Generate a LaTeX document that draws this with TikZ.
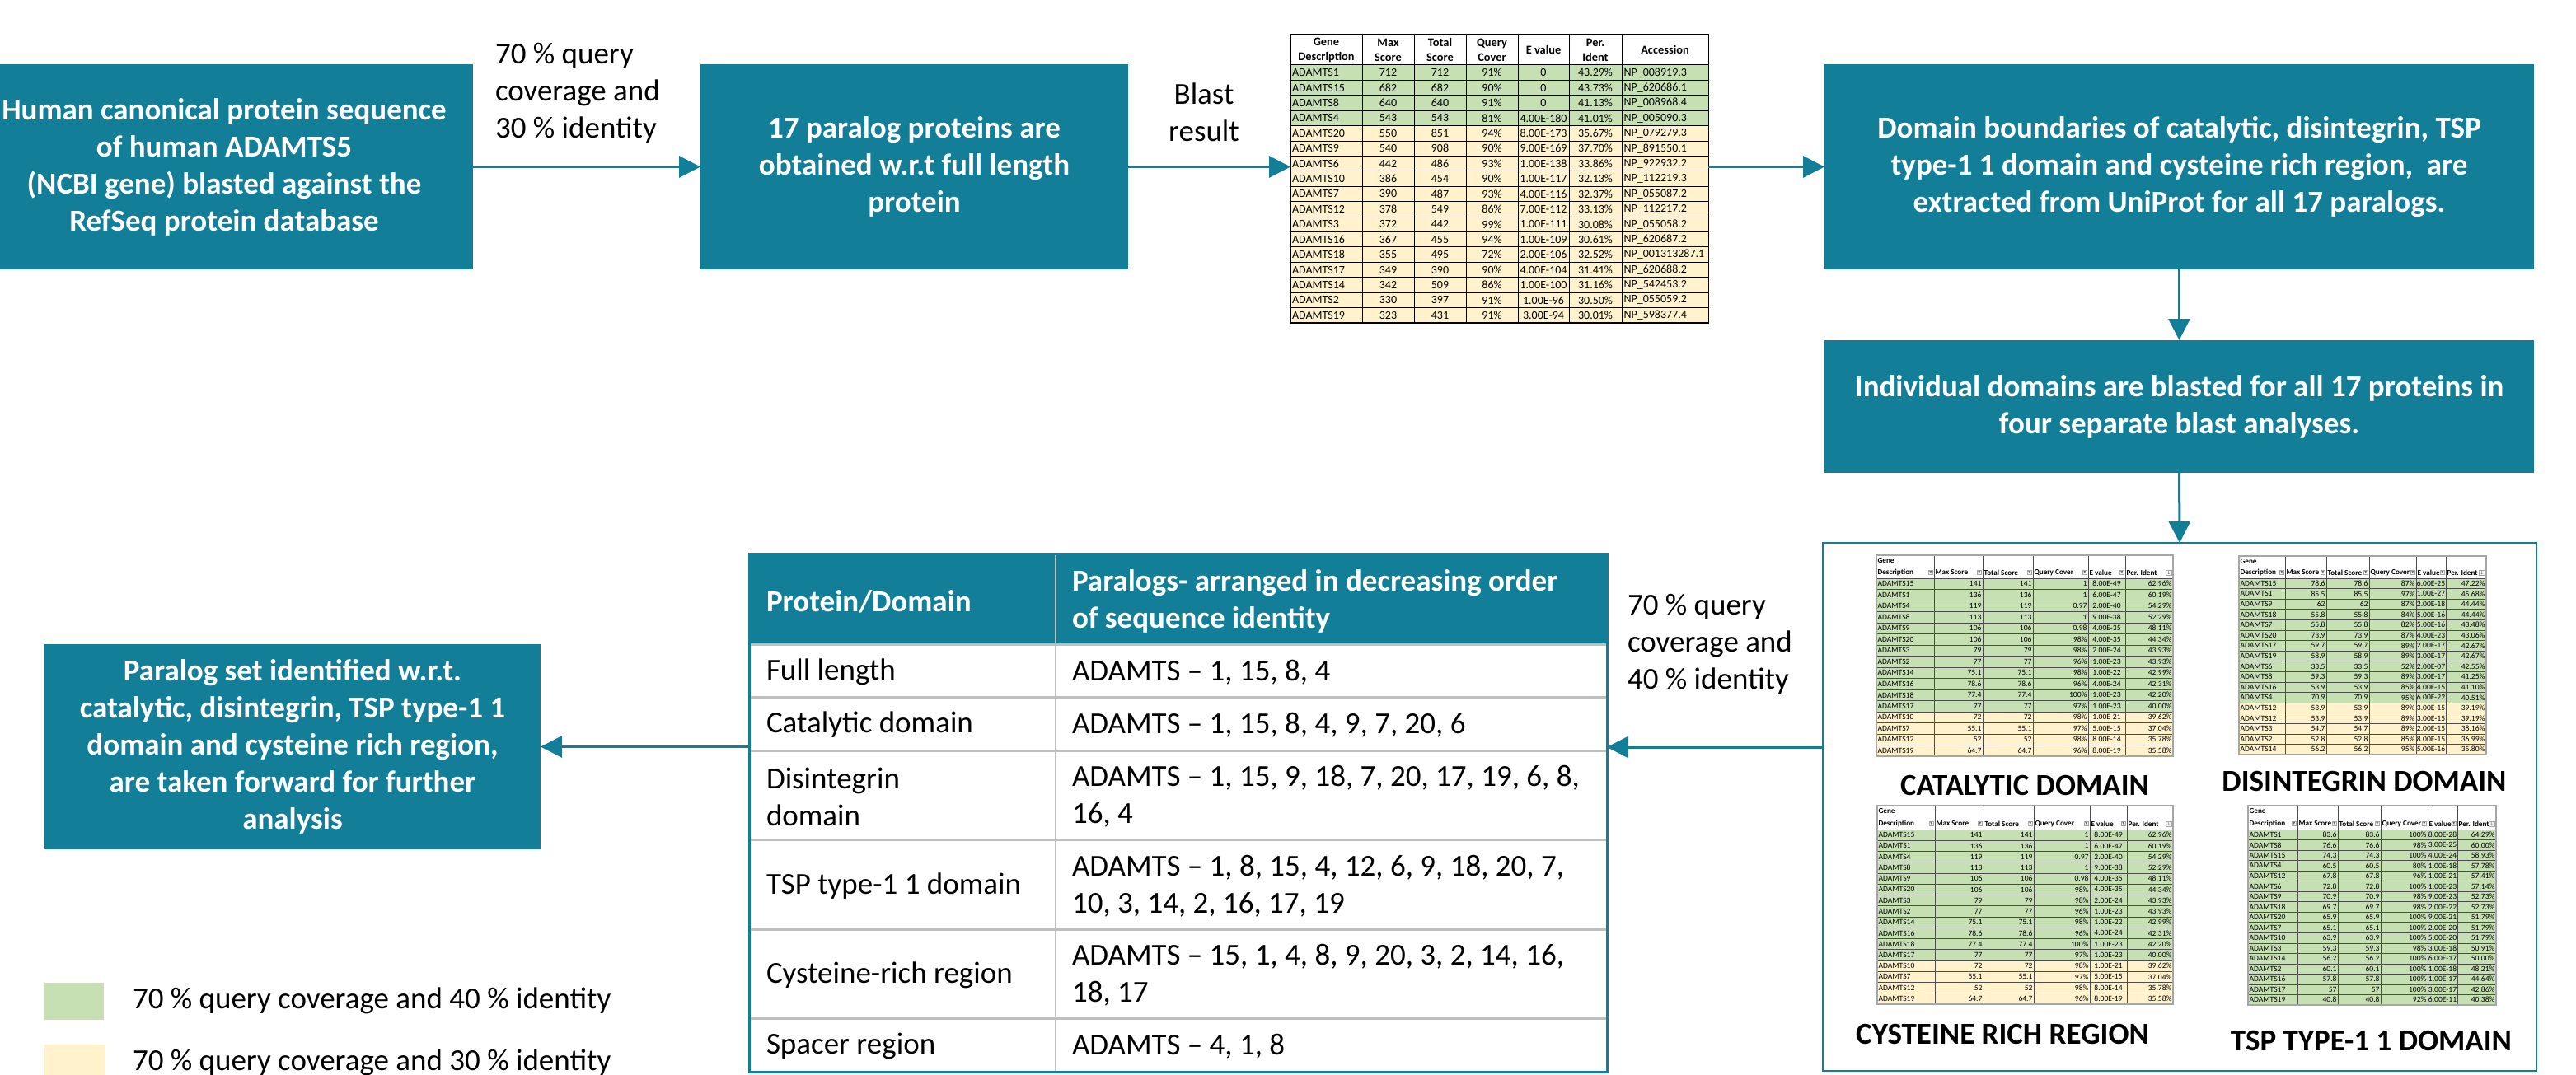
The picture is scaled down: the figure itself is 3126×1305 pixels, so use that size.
\documentclass[tikz,border=0pt]{standalone}
\usepackage{fontspec}
\setmainfont{Carlito}
\newfontfamily\dejavu{DejaVu Sans}
\usetikzlibrary{arrows.meta}
\definecolor{teal1}{RGB}{18,126,152}
\definecolor{cg}{RGB}{198,224,180}
\definecolor{cy}{RGB}{255,242,204}
\definecolor{gridg}{RGB}{191,191,191}
\newcommand\fbtn[1][▾]{{\setlength{\fboxsep}{0.3pt}\setlength{\fboxrule}{0.25pt}\fcolorbox{black!35}{black!4}{\dejavu\fontsize{3}{3}\selectfont\textcolor{black!60}{#1}}}}
\newcommand\DrawDom[7]{%
  \pgfmathsetmacro\dbot{#3+#6*#4}%
  \fill[cg] (\dxa,#3) rectangle (\dxg,{#3+#5*#4});%
  \ifnum#5<#6\relax\fill[cy] (\dxa,{#3+#5*#4}) rectangle (\dxg,\dbot);\fi
  \foreach \qa/\qb/\qc/\qd/\qe/\qf [count=\i] in {#7}{%
    \pgfmathsetmacro\yc{#3+(\i-0.5)*#4}%
    \node[dcell,anchor=west] (#1-\i-a) at (\dxa+1.5,\yc) {\qa};%
    \node[dcell,anchor=east] (#1-\i-b) at (\dxc-1.5,\yc) {\qb};%
    \node[dcell,anchor=east] (#1-\i-c) at (\dxd-1.5,\yc) {\qc};%
    \node[dcell,anchor=east] (#1-\i-d) at (\dxe-1.5,\yc) {\qd};%
    \node[dcell] (#1-\i-e) at ({(\dxe+\dxf)/2},\yc) {\qe};%
    \node[dcell,anchor=east] (#1-\i-f) at (\dxg-1.5,\yc) {\qf};%
    \draw[dline] (\dxa,{#3+\i*#4}) -- (\dxg,{#3+\i*#4});%
  }%
  \draw[dline] (\dxa,#3) -- (\dxg,#3);%
  \foreach \xx in {\dxb,\dxc,\dxd,\dxe,\dxf}{\draw[dline] (\xx,#2) -- (\xx,\dbot);}%
  \draw[dframe] (\dxa,#2) rectangle (\dxg,\dbot);%
  \pgfmathsetmacro\yh{#3-7}%
  \node[dhead,anchor=west] (#1-h0) at (\dxa+1.5,{#2+7}) {Gene};%
  \node[dhead,anchor=west] (#1-h1) at (\dxa+1.5,\yh) {Description};%
  \node[dhead,anchor=west] (#1-h2) at (\dxb+1.5,\yh) {Max Score};%
  \node[dhead,anchor=west] (#1-h3) at (\dxc+1.5,\yh) {Total Score};%
  \node[dhead,anchor=west] (#1-h4) at (\dxd+1.5,\yh) {Query Cover};%
  \node[dhead,anchor=west] (#1-h5) at (\dxe+1.5,\yh) {E value};%
  \node[dhead,anchor=west] (#1-h6) at (\dxf+1.5,\yh) {Per. Ident};%
  \node[anchor=east] (#1-b1) at (\dxb-1.5,\yh) {\fbtn};%
  \node[anchor=east] (#1-b2) at (\dxc-1.5,\yh) {\fbtn};%
  \node[anchor=east] (#1-b3) at (\dxd-1.5,\yh) {\fbtn};%
  \node[anchor=east] (#1-b4) at (\dxe-1.5,\yh) {\fbtn};%
  \node[anchor=east] (#1-b5) at (\dxf-1.5,\yh) {\fbtn};%
  \node[anchor=east] (#1-b6) at (\dxg-1.5,\yh) {\fbtn[↓]};%
}
\begin{document}
\begin{tikzpicture}[x=0.5pt,y=-0.5pt,
  every node/.style={inner sep=0pt,outer sep=0pt},
  big/.style={font=\fontsize{18.5}{22.5}\selectfont},
  tbox/.style={fill=teal1,text=white,font=\bfseries\fontsize{18.5}{22.5}\selectfont,align=center},
  arr/.style={draw=teal1,line width=1.5pt,-{Triangle[length=13pt,width=13pt]}},
  bcell/.style={font=\fontsize{7}{8}\selectfont},
  bhead/.style={font=\bfseries\fontsize{7.2}{9}\selectfont,align=center},
  bline/.style={draw=black,line width=0.5pt},
  dcell/.style={font=\fontsize{4.8}{5.5}\selectfont},
  dhead/.style={font=\bfseries\fontsize{4.6}{5}\selectfont},
  dline/.style={draw=black!70,line width=0.3pt},
  dframe/.style={draw=black!35,line width=1.2pt},
  mgrid/.style={draw=gridg,line width=1.5pt},
  dtitle/.style={font=\bfseries\fontsize{18.5}{22}\selectfont}]
\useasboundingbox (0,0) rectangle (3126,1305);
\fill[white] (0,0) rectangle (3126,1305);

% ---------- top row boxes ----------
\begin{scope}
\clip (0,0) rectangle (3126,1305);
\node[tbox,minimum width=302pt,minimum height=124.5pt] (box1) at (272,202.5)
  {Human canonical protein sequence\\of human ADAMTS5\\(NCBI gene) blasted against the\\RefSeq protein database};
\end{scope}
\node[tbox,minimum width=259.5pt,minimum height=124.5pt] (box2) at (1109.5,202.5)
  {17 paralog proteins are\\obtained w.r.t full length\\protein};
\node[tbox,minimum width=430.5pt,minimum height=124.5pt] (box3) at (2644.5,202.5)
  {Domain boundaries of catalytic, disintegrin, TSP\\type-1 1 domain and cysteine rich region,\ \ are\\extracted from UniProt for all 17 paralogs.};
\node[tbox,minimum width=430.5pt,minimum height=80.5pt] (box4) at (2644.5,493.5)
  {Individual domains are blasted for all 17 proteins in\\four separate blast analyses.};
\node[tbox,minimum width=301pt,minimum height=124.5pt] (box5) at (355,906.5)
  {Paralog set identified w.r.t.\\catalytic, disintegrin, TSP type-1 1\\domain and cysteine rich region,\\are taken forward for further\\analysis};

% labels
\node[big,align=left,anchor=west] (lab1) at (601,113) {70 \% query\\coverage and\\30 \% identity};
\node[big,align=center] (lab2) at (1461,136.5) {Blast\\result};
\node[big,align=left,anchor=west] (lab3) at (1975,782) {70 \% query\\coverage and\\40 \% identity};

% ---------- blast result table ----------
\node[minimum width=253.5pt,minimum height=175pt] (blast) at (1819.5,217) {};
\fill[cg] (1566,79) rectangle (2073,{79+4*18.41});
\fill[cy] (1566,{79+4*18.41}) rectangle (2073,392);
\foreach \qa/\qb/\qc/\qd/\qe/\qf/\qg [count=\i] in {
 ADAMTS1/712/712/91\%/0/43.29\%/NP\_008919.3,
 ADAMTS15/682/682/90\%/0/43.73\%/NP\_620686.1,
 ADAMTS8/640/640/91\%/0/41.13\%/NP\_008968.4,
 ADAMTS4/543/543/81\%/4.00E-180/41.01\%/NP\_005090.3,
 ADAMTS20/550/851/94\%/8.00E-173/35.67\%/NP\_079279.3,
 ADAMTS9/540/908/90\%/9.00E-169/37.70\%/NP\_891550.1,
 ADAMTS6/442/486/93\%/1.00E-138/33.86\%/NP\_922932.2,
 ADAMTS10/386/454/90\%/1.00E-117/32.13\%/NP\_112219.3,
 ADAMTS7/390/487/93\%/4.00E-116/32.37\%/NP\_055087.2,
 ADAMTS12/378/549/86\%/7.00E-112/33.13\%/NP\_112217.2,
 ADAMTS3/372/442/99\%/1.00E-111/30.08\%/NP\_055058.2,
 ADAMTS16/367/455/94\%/1.00E-109/30.61\%/NP\_620687.2,
 ADAMTS18/355/495/72\%/2.00E-106/32.52\%/NP\_001313287.1,
 ADAMTS17/349/390/90\%/4.00E-104/31.41\%/NP\_620688.2,
 ADAMTS14/342/509/86\%/1.00E-100/31.16\%/NP\_542453.2,
 ADAMTS2/330/397/91\%/1.00E-96/30.50\%/NP\_055059.2,
 ADAMTS19/323/431/91\%/3.00E-94/30.01\%/NP\_598377.4}{
 \pgfmathsetmacro\yc{79+(\i-0.5)*18.41}
 \node[bcell,anchor=west] (bl-\i-a) at (1568,\yc) {\qa};
 \node[bcell] (bl-\i-b) at (1684.5,\yc) {\qb};
 \node[bcell] (bl-\i-c) at (1747.5,\yc) {\qc};
 \node[bcell] (bl-\i-d) at (1810.5,\yc) {\qd};
 \node[bcell] (bl-\i-e) at (1873,\yc) {\qe};
 \node[bcell] (bl-\i-f) at (1936,\yc) {\qf};
 \node[bcell,anchor=west] (bl-\i-g) at (1970.5,\yc) {\qg};
 \draw[bline] (1566,{79+\i*18.41}) -- (2073,{79+\i*18.41});
}
\draw[bline] (1566,79) -- (2073,79);
\foreach \xx in {1653,1716,1779,1842,1904,1968}{\draw[bline] (\xx,42) -- (\xx,392);}
\draw[bline] (1566,42) rectangle (2073,392);
\node[bhead] (bh1) at (1609.5,61) {Gene\\Description};
\node[bhead] (bh2) at (1684.5,61) {Max\\Score};
\node[bhead] (bh3) at (1747.5,61) {Total\\Score};
\node[bhead] (bh4) at (1810.5,61) {Query\\Cover};
\node[bhead] (bh5) at (1873,61) {E value};
\node[bhead] (bh6) at (1936,61) {Per.\\Ident};
\node[bhead] (bh7) at (2020.5,61) {Accession};

% ---------- big box with domain tables ----------
\node[draw=teal1,line width=1.2pt,minimum width=433pt,minimum height=320.5pt] (big) at (2645,979.5) {};

\def\dxa{2277}\def\dxb{2347}\def\dxc{2406}\def\dxd{2467}\def\dxe{2534}\def\dxf{2579}\def\dxg{2637}
\DrawDom{cat}{674}{702}{13.5}{12}{16}{
 ADAMTS15/141/141/1/8.00E-49/62.96\%,
 ADAMTS1/136/136/1/6.00E-47/60.19\%,
 ADAMTS4/119/119/0.97/2.00E-40/54.29\%,
 ADAMTS8/113/113/1/9.00E-38/52.29\%,
 ADAMTS9/106/106/0.98/4.00E-35/48.11\%,
 ADAMTS20/106/106/98\%/4.00E-35/44.34\%,
 ADAMTS3/79/79/98\%/2.00E-24/43.93\%,
 ADAMTS2/77/77/96\%/1.00E-23/43.93\%,
 ADAMTS14/75.1/75.1/98\%/1.00E-22/42.99\%,
 ADAMTS16/78.6/78.6/96\%/4.00E-24/42.31\%,
 ADAMTS18/77.4/77.4/100\%/1.00E-23/42.20\%,
 ADAMTS17/77/77/97\%/1.00E-23/40.00\%,
 ADAMTS10/72/72/98\%/1.00E-21/39.62\%,
 ADAMTS7/55.1/55.1/97\%/5.00E-15/37.04\%,
 ADAMTS12/52/52/98\%/8.00E-14/35.78\%,
 ADAMTS19/64.7/64.7/96\%/8.00E-19/35.58\%}
\node[dtitle] (tcat) at (2457,953) {CATALYTIC DOMAIN};

\def\dxa{2717}\def\dxb{2773}\def\dxc{2823}\def\dxd{2875}\def\dxe{2932}\def\dxf{2968}\def\dxg{3017}
\DrawDom{dis}{675}{702}{12.59}{12}{17}{
 ADAMTS15/78.6/78.6/87\%/6.00E-25/47.22\%,
 ADAMTS1/85.5/85.5/97\%/1.00E-27/45.68\%,
 ADAMTS9/62/62/87\%/2.00E-18/44.44\%,
 ADAMTS18/55.8/55.8/84\%/5.00E-16/44.44\%,
 ADAMTS7/55.8/55.8/82\%/5.00E-16/43.48\%,
 ADAMTS20/73.9/73.9/87\%/4.00E-23/43.06\%,
 ADAMTS17/59.7/59.7/89\%/2.00E-17/42.67\%,
 ADAMTS19/58.9/58.9/89\%/3.00E-17/42.67\%,
 ADAMTS6/33.5/33.5/52\%/2.00E-07/42.55\%,
 ADAMTS8/59.3/59.3/89\%/3.00E-17/41.25\%,
 ADAMTS16/53.9/53.9/85\%/4.00E-15/41.10\%,
 ADAMTS4/70.9/70.9/95\%/6.00E-22/40.51\%,
 ADAMTS12/53.9/53.9/89\%/3.00E-15/39.19\%,
 ADAMTS12/53.9/53.9/89\%/3.00E-15/39.19\%,
 ADAMTS3/54.7/54.7/89\%/2.00E-15/38.16\%,
 ADAMTS2/52.8/52.8/85\%/8.00E-15/36.99\%,
 ADAMTS14/56.2/56.2/95\%/5.00E-16/35.80\%}
\node[dtitle] (tdis) at (2869,948) {DISINTEGRIN DOMAIN};

\def\dxa{2278}\def\dxb{2348}\def\dxc{2407}\def\dxd{2468}\def\dxe{2536}\def\dxf{2581}\def\dxg{2637}
\DrawDom{cys}{978}{1007}{13.25}{12}{16}{
 ADAMTS15/141/141/1/8.00E-49/62.96\%,
 ADAMTS1/136/136/1/6.00E-47/60.19\%,
 ADAMTS4/119/119/0.97/2.00E-40/54.29\%,
 ADAMTS8/113/113/1/9.00E-38/52.29\%,
 ADAMTS9/106/106/0.98/4.00E-35/48.11\%,
 ADAMTS20/106/106/98\%/4.00E-35/44.34\%,
 ADAMTS3/79/79/98\%/2.00E-24/43.93\%,
 ADAMTS2/77/77/96\%/1.00E-23/43.93\%,
 ADAMTS14/75.1/75.1/98\%/1.00E-22/42.99\%,
 ADAMTS16/78.6/78.6/96\%/4.00E-24/42.31\%,
 ADAMTS18/77.4/77.4/100\%/1.00E-23/42.20\%,
 ADAMTS17/77/77/97\%/1.00E-23/40.00\%,
 ADAMTS10/72/72/98\%/1.00E-21/39.62\%,
 ADAMTS7/55.1/55.1/97\%/5.00E-15/37.04\%,
 ADAMTS12/52/52/98\%/8.00E-14/35.78\%,
 ADAMTS19/64.7/64.7/96\%/8.00E-19/35.58\%}
\node[dtitle] (tcys) at (2430,1255) {CYSTEINE RICH REGION};

\def\dxa{2728}\def\dxb{2788}\def\dxc{2837}\def\dxd{2889}\def\dxe{2946}\def\dxf{2982}\def\dxg{3029}
\DrawDom{tsp}{978}{1007}{12.53}{17}{17}{
 ADAMTS1/83.6/83.6/100\%/8.00E-28/64.29\%,
 ADAMTS8/76.6/76.6/98\%/3.00E-25/60.00\%,
 ADAMTS15/74.3/74.3/100\%/4.00E-24/58.93\%,
 ADAMTS4/60.5/60.5/80\%/1.00E-18/57.78\%,
 ADAMTS12/67.8/67.8/96\%/1.00E-21/57.41\%,
 ADAMTS6/72.8/72.8/100\%/1.00E-23/57.14\%,
 ADAMTS9/70.9/70.9/98\%/9.00E-23/52.73\%,
 ADAMTS18/69.7/69.7/98\%/2.00E-22/52.73\%,
 ADAMTS20/65.9/65.9/100\%/9.00E-21/51.79\%,
 ADAMTS7/65.1/65.1/100\%/2.00E-20/51.79\%,
 ADAMTS10/63.9/63.9/100\%/5.00E-20/51.79\%,
 ADAMTS3/59.3/59.3/98\%/3.00E-18/50.91\%,
 ADAMTS14/56.2/56.2/100\%/6.00E-17/50.00\%,
 ADAMTS2/60.1/60.1/100\%/1.00E-18/48.21\%,
 ADAMTS16/57.8/57.8/100\%/1.00E-17/44.64\%,
 ADAMTS17/57/57/100\%/3.00E-17/42.86\%,
 ADAMTS19/40.8/40.8/92\%/6.00E-11/40.38\%}
\node[dtitle] (ttsp) at (2877.5,1263) {TSP TYPE-1 1 DOMAIN};

% ---------- main table ----------
\node[minimum width=520.5pt,minimum height=314.5pt] (mt) at (1429.5,986.5) {};
\fill[teal1] (909,672) rectangle (1950,782);
\foreach \yy in {782,846,911,1019,1128,1236}{\draw[mgrid] (909,\yy) -- (1950,\yy);}
\draw[draw=gridg,line width=0.8pt] (1281,672) -- (1281,1301);
\draw[draw=teal1,line width=1.5pt] (909,672) rectangle (1950,1301);
\node[big,font=\bfseries\fontsize{18.5}{22.5}\selectfont,text=white,anchor=west] (mh1) at (930,730) {Protein/Domain};
\node[big,font=\bfseries\fontsize{18.5}{22.5}\selectfont,text=white,anchor=west,align=left] (mh2) at (1301,730) {Paralogs- arranged in decreasing order\\of sequence identity};
\node[big,anchor=west] (m1a) at (930,816) {Full length};
\node[big,anchor=west] (m1b) at (1301,816) {ADAMTS – 1, 15, 8, 4};
\node[big,anchor=west] (m2a) at (930,880) {Catalytic domain};
\node[big,anchor=west] (m2b) at (1301,880) {ADAMTS – 1, 15, 8, 4, 9, 7, 20, 6};
\node[big,anchor=west,align=left] (m3a) at (930,967) {Disintegrin\\domain};
\node[big,anchor=west,align=left] (m3b) at (1301,967) {ADAMTS – 1, 15, 9, 18, 7, 20, 17, 19, 6, 8,\\16, 4};
\node[big,anchor=west] (m4a) at (930,1076) {TSP type-1 1 domain};
\node[big,anchor=west,align=left] (m4b) at (1301,1076) {ADAMTS – 1, 8, 15, 4, 12, 6, 9, 18, 20, 7,\\10, 3, 14, 2, 16, 17, 19};
\node[big,anchor=west] (m5a) at (930,1184) {Cysteine-rich region};
\node[big,anchor=west,align=left] (m5b) at (1301,1184) {ADAMTS – 15, 1, 4, 8, 9, 20, 3, 2, 14, 16,\\18, 17};
\node[big,anchor=west] (m6a) at (930,1270) {Spacer region};
\node[big,anchor=west] (m6b) at (1301,1270) {ADAMTS – 4, 1, 8};

% ---------- legend ----------
\fill[cg] (54,1193) rectangle (126,1238);
\fill[cy] (54,1268) rectangle (128,1313);
\node[big,anchor=west] (leg1) at (161,1215) {70 \% query coverage and 40 \% identity};
\node[big,anchor=west] (leg2) at (161,1290) {70 \% query coverage and 30 \% identity};

% ---------- connectors ----------
\coordinate (ylev) at (0,907);
\draw[arr] (box1.east) -- (box2.west);
\draw[arr] (box2.east) -- (box2.east -| blast.west);
\draw[arr] (blast.east |- box3.west) -- (box3.west);
\draw[arr] (box3.south) -- (box4.north);
\draw[arr] (box4.south) -- (big.north);
\draw[arr] (big.west |- ylev) -- (mt.east |- ylev);
\draw[arr] (mt.west |- box5.east) -- (box5.east);
\end{tikzpicture}
\end{document}
